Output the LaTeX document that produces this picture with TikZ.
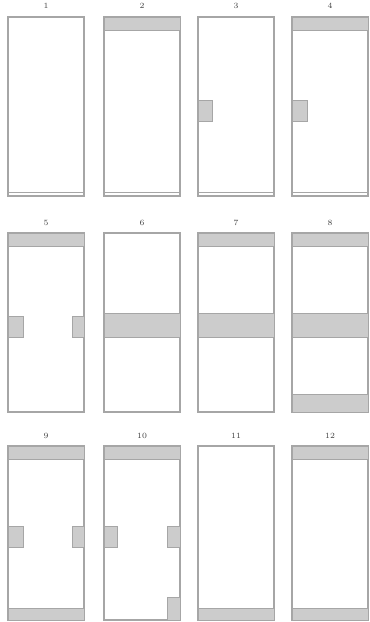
\documentclass[tikz,border=0pt]{standalone}
\usetikzlibrary{positioning}
\begin{document}
\begin{tikzpicture}[
        x=0.75pt, y=-0.75pt,
        frame/.style={draw=gray!70, line width=1.4pt, fill=white},
        rail/.style={draw=gray!70, line width=0.6pt},
        band/.style={draw=gray!70, line width=0.7pt, fill=gray!40},
        num/.style={font=\fontsize{6}{6}\selectfont, inner sep=0pt, text=black!75}
    ]
        \useasboundingbox (0,0) rectangle (369,622);
        % row 1
        \foreach \x/\n in {8/1,104/2,198/3,292/4}{
            \draw[frame] (\x,17) rectangle ++(76,179);
            \draw[rail] (\x,192) -- ++(76,0);
            \node[num] (n\n) at (\x+38,6) {\n};
        }
        % row 2
        \foreach \x/\n in {8/5,104/6,198/7,292/8}{
            \draw[frame] (\x,233) rectangle ++(76,179);
            \node[num] (n\n) at (\x+38,223) {\n};
        }
        % row 3
        \foreach \x/\n in {8/9,104/10,198/11,292/12}{
            \draw[frame] (\x,446) rectangle ++(76,174);
            \node[num] (n\n) at (\x+38,436) {\n};
        }
        % top bands
        \foreach \x/\y in {104/17,292/17,8/233,198/233,292/233,8/446,104/446,292/446}
            \draw[band] (\x,\y) rectangle ++(76,13);
        % middle bands
        \foreach \x in {104,198,292}
            \draw[band] (\x,313) rectangle ++(76,24);
        % bottom bands
        \foreach \x/\y/\h in {292/394/18,8/608/12,198/608/12,292/608/12}
            \draw[band] (\x,\y) rectangle ++(76,\h);
        % side blocks
        \foreach \x/\y/\w/\h in {198/100/14/21,292/100/15/21,8/316/15/21,72/316/12/21,
                                8/526/15/21,72/526/12/21,104/526/13/21,167/526/13/21,167/597/13/23}
            \draw[band] (\x,\y) rectangle ++(\w,\h);
    \end{tikzpicture}
\end{document}
